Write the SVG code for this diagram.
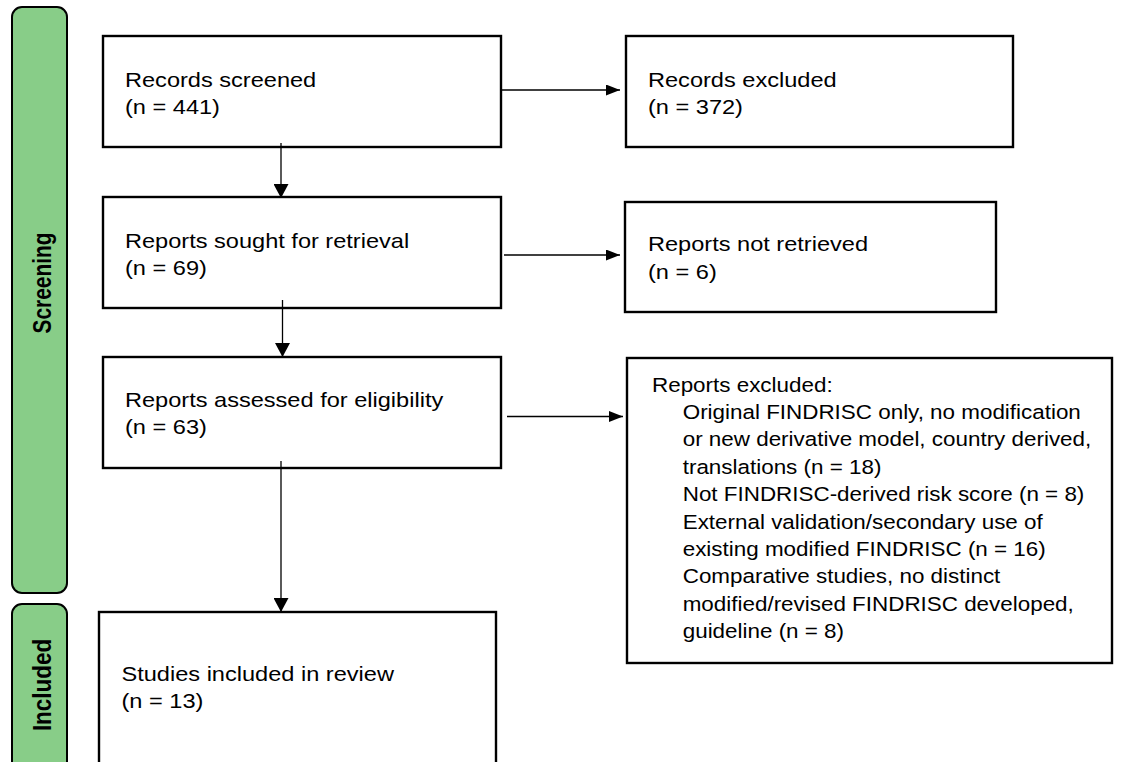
<svg xmlns="http://www.w3.org/2000/svg" width="1148" height="762" viewBox="0 0 1148 762">
<style>
.box{fill:#fff;stroke:#000;stroke-width:2.4}
.band{fill:#88CD88;stroke:#000;stroke-width:2}
.t{font-family:"Liberation Sans",Arial,sans-serif;font-size:20.5px;fill:#000}
.ts{font-family:"Liberation Sans",Arial,sans-serif;font-size:19.5px;fill:#000}
.lab{font-family:"Liberation Sans",Arial,sans-serif;font-size:22px;font-weight:bold;fill:#000;text-anchor:middle}
.conn{fill:none;stroke:#000;stroke-width:1.3}
</style>
<defs>
<marker id="arrV" markerUnits="userSpaceOnUse" markerWidth="14" markerHeight="15" refX="14" refY="7.5" orient="auto"><path d="M0,0 L14,7.5 L0,15 Z" fill="#000"/></marker>
<marker id="arrH" markerUnits="userSpaceOnUse" markerWidth="14" markerHeight="11" refX="14" refY="5.5" orient="auto"><path d="M0,0 L14,5.5 L0,11 Z" fill="#000"/></marker>
</defs>
<rect width="1148" height="762" fill="#fff"/>
<g id="band-screening">
<rect class="band" x="12" y="7" width="55" height="586" rx="10"/>
<text class="lab" transform="translate(51,283) rotate(-90) scale(0.95,1.2)">Screening</text>
</g>
<g id="band-included">
<rect class="band" x="12" y="604" width="55" height="175" rx="10"/>
<text class="lab" transform="translate(51,685) rotate(-90) scale(1.02,1.2)">Included</text>
</g>
<g id="records-screened">
<rect class="box" x="103" y="36" width="398" height="111"/>
<text class="t" transform="translate(125,87) scale(1.15,1)"><tspan x="0" y="0">Records screened</tspan><tspan x="0" y="27">(n = 441)</tspan></text>
</g>
<g id="records-excluded">
<rect class="box" x="626" y="36" width="387" height="111"/>
<text class="t" transform="translate(648,87) scale(1.15,1)"><tspan x="0" y="0">Records excluded</tspan><tspan x="0" y="27">(n = 372)</tspan></text>
</g>
<g id="reports-sought">
<rect class="box" x="103" y="197" width="398" height="111"/>
<text class="t" transform="translate(125,248) scale(1.15,1)"><tspan x="0" y="0">Reports sought for retrieval</tspan><tspan x="0" y="27.5">(n = 69)</tspan></text>
</g>
<g id="reports-not-retrieved">
<rect class="box" x="625" y="202" width="371" height="110"/>
<text class="t" transform="translate(648,251) scale(1.15,1)"><tspan x="0" y="0">Reports not retrieved</tspan><tspan x="0" y="28">(n = 6)</tspan></text>
</g>
<g id="reports-assessed">
<rect class="box" x="103" y="357" width="398" height="111"/>
<text class="t" transform="translate(125,406.5) scale(1.15,1)"><tspan x="0" y="0">Reports assessed for eligibility</tspan><tspan x="0" y="27.5">(n = 63)</tspan></text>
</g>
<g id="reports-excluded">
<rect class="box" x="627" y="358" width="485" height="305"/>
<text class="ts" transform="translate(652,391.7) scale(1.15,1)"><tspan x="0" y="0">Reports excluded:</tspan><tspan x="26.7" y="27.4">Original FINDRISC only, no modification</tspan><tspan x="26.7" y="54.8">or new derivative model, country derived,</tspan><tspan x="26.7" y="82.2">translations (n = 18)</tspan><tspan x="26.7" y="109.6">Not FINDRISC-derived risk score (n = 8)</tspan><tspan x="26.7" y="137">External validation/secondary use of</tspan><tspan x="26.7" y="164.4">existing modified FINDRISC (n = 16)</tspan><tspan x="26.7" y="191.8">Comparative studies, no distinct</tspan><tspan x="26.7" y="219.2">modified/revised FINDRISC developed,</tspan><tspan x="26.7" y="246.6">guideline (n = 8)</tspan></text>
</g>
<g id="studies-included">
<rect class="box" x="99" y="612" width="397" height="170"/>
<text class="t" transform="translate(121.5,680.5) scale(1.15,1)"><tspan x="0" y="0">Studies included in review</tspan><tspan x="0" y="27.5">(n = 13)</tspan></text>
</g>
<g id="connectors">
<line class="conn" x1="281" y1="143" x2="281" y2="198" marker-end="url(#arrV)"/>
<line class="conn" x1="282.5" y1="300" x2="282.5" y2="357" marker-end="url(#arrV)"/>
<line class="conn" x1="281" y1="461" x2="281" y2="612" marker-end="url(#arrV)"/>
<line class="conn" x1="502" y1="90" x2="620" y2="90" marker-end="url(#arrH)"/>
<line class="conn" x1="504" y1="255" x2="620" y2="255" marker-end="url(#arrH)"/>
<line class="conn" x1="507" y1="416.5" x2="623" y2="416.5" marker-end="url(#arrH)"/>
</g>
</svg>
